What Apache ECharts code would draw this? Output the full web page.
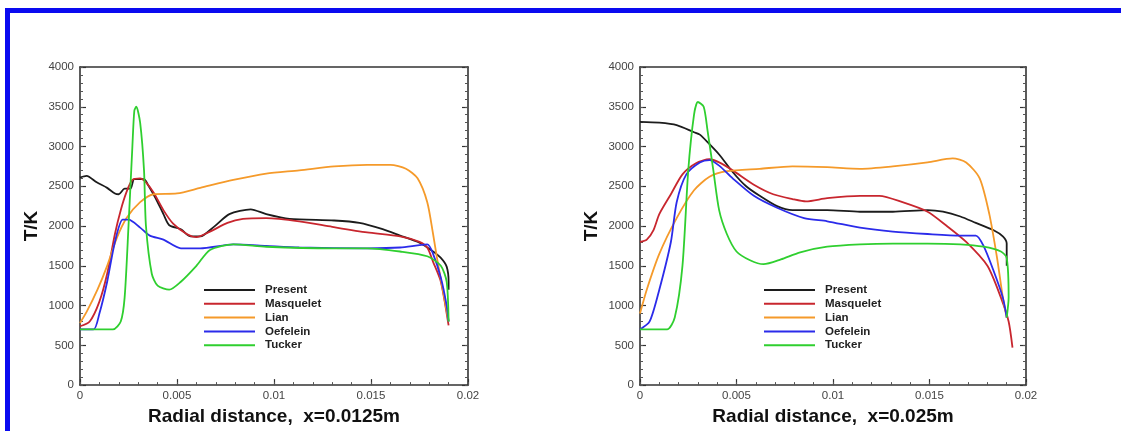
<!DOCTYPE html>
<html><head><meta charset="utf-8">
<script src="https://cdn.jsdelivr.net/npm/echarts@6/dist/echarts.min.js"></script>
<style>html,body{margin:0;padding:0;background:#fff}#c{width:1121px;height:431px}</style>
</head><body><div id="c"></div>
<script>
// ---- data (x in m, T in K) ----
const seriesNames = ['Present','Masquelet','Lian','Oefelein','Tucker'];
const xTicks = ['0','0.005','0.01','0.015','0.02'];
const yTicks = ['0','500','1000','1500','2000','2500','3000','3500','4000'];
const titleL = 'Radial distance,  x=0.0125m';
const titleR = 'Radial distance,  x=0.025m';

// Left panel x=0.0125m
const presentL = [[0,2610],[0.00034,2630],[0.00086,2550],[0.0014,2480],[0.0018,2410],[0.002,2400],[0.0023,2470],[0.0026,2470],[0.0028,2590],[0.0033,2590],[0.0035,2520],[0.0039,2350],[0.0043,2150],[0.0046,2010],[0.0052,1960],[0.0057,1870],[0.0062,1870],[0.0069,1990],[0.0077,2150],[0.0088,2210],[0.0096,2150],[0.0108,2090],[0.0131,2070],[0.0144,2040],[0.0156,1960],[0.0165,1880],[0.0175,1790],[0.0182,1680],[0.0186,1600],[0.0189,1490],[0.019,1300],[0.019,1200]];
const masqueletL = [[0,740],[0.0005,800],[0.001,1050],[0.0014,1400],[0.0018,1900],[0.0021,2200],[0.0024,2430],[0.0027,2580],[0.0031,2600],[0.0034,2550],[0.0038,2420],[0.0043,2200],[0.0048,2030],[0.0055,1900],[0.006,1860],[0.0067,1930],[0.0076,2040],[0.0084,2090],[0.0096,2100],[0.0113,2060],[0.013,1990],[0.0148,1920],[0.0165,1870],[0.0175,1800],[0.0179,1730],[0.0182,1550],[0.0186,1300],[0.019,750]];
const lianL = [[0,780],[0.00034,920],[0.0009,1200],[0.0014,1500],[0.0019,1850],[0.0024,2100],[0.0031,2300],[0.0038,2400],[0.005,2410],[0.0062,2480],[0.0079,2580],[0.0096,2660],[0.0113,2700],[0.0131,2750],[0.0148,2770],[0.016,2770],[0.0168,2720],[0.0174,2600],[0.0179,2300],[0.0182,1900],[0.0184,1600],[0.0187,1200],[0.019,800]];
const oefeleinL = [[0,700],[0.0007,700],[0.001,900],[0.0014,1300],[0.0018,1800],[0.0022,2080],[0.0025,2080],[0.0031,1980],[0.0036,1880],[0.0043,1830],[0.0052,1720],[0.0062,1720],[0.0079,1770],[0.0096,1750],[0.0113,1730],[0.0148,1720],[0.0165,1730],[0.0179,1770],[0.0182,1650],[0.0186,1350],[0.0189,1000],[0.019,800]];
const tuckerL = [[0,700],[0.0017,700],[0.0021,800],[0.0023,1100],[0.0025,2000],[0.0027,3000],[0.0028,3450],[0.0029,3500],[0.0031,3300],[0.0033,2700],[0.0034,2000],[0.0037,1400],[0.004,1250],[0.0046,1200],[0.0052,1300],[0.006,1500],[0.0067,1700],[0.0079,1770],[0.0096,1740],[0.013,1720],[0.0148,1720],[0.0165,1680],[0.0179,1620],[0.0186,1500],[0.0189,1300],[0.019,800]];

// Right panel x=0.025m
const presentR = [[0,3310],[0.001,3300],[0.0019,3270],[0.0028,3180],[0.0031,3150],[0.0036,3030],[0.0041,2900],[0.0048,2680],[0.0055,2500],[0.0062,2380],[0.0071,2250],[0.0079,2200],[0.0097,2200],[0.0114,2180],[0.0131,2180],[0.0149,2200],[0.0157,2180],[0.0166,2120],[0.0174,2040],[0.0183,1950],[0.0188,1870],[0.019,1780],[0.019,1500]];
const masqueletR = [[0,1800],[0.00035,1830],[0.0007,1950],[0.001,2150],[0.0016,2400],[0.0022,2650],[0.0029,2790],[0.0036,2840],[0.0041,2800],[0.0048,2700],[0.0059,2520],[0.0069,2400],[0.0079,2340],[0.0086,2310],[0.0097,2350],[0.0114,2380],[0.0124,2380],[0.0136,2300],[0.0149,2180],[0.0159,2000],[0.0169,1800],[0.018,1500],[0.0187,1100],[0.0191,800],[0.0193,470]];
const lianR = [[0,900],[0.00035,1200],[0.001,1650],[0.0019,2100],[0.0028,2450],[0.0036,2620],[0.0045,2690],[0.0062,2720],[0.0079,2750],[0.0097,2740],[0.0114,2720],[0.0131,2750],[0.0149,2800],[0.0162,2850],[0.0169,2800],[0.0176,2600],[0.0181,2150],[0.0185,1600],[0.0188,1100],[0.019,850]];
const oefeleinR = [[0,700],[0.0005,800],[0.001,1200],[0.0016,1800],[0.0019,2300],[0.0024,2650],[0.0031,2800],[0.0036,2830],[0.0041,2760],[0.0048,2600],[0.0059,2380],[0.0071,2230],[0.0085,2100],[0.0097,2060],[0.0114,1980],[0.0131,1930],[0.0149,1900],[0.0166,1880],[0.0174,1880],[0.0178,1750],[0.0183,1450],[0.0188,1100],[0.019,850]];
const tuckerR = [[0,700],[0.0014,700],[0.0018,850],[0.0022,1500],[0.0025,2700],[0.0028,3400],[0.003,3560],[0.0033,3500],[0.0035,3200],[0.0038,2700],[0.0041,2200],[0.0045,1900],[0.005,1680],[0.0057,1570],[0.0064,1520],[0.0073,1580],[0.0083,1670],[0.0097,1740],[0.0114,1770],[0.0131,1780],[0.0149,1780],[0.0166,1770],[0.0178,1740],[0.0187,1680],[0.019,1600],[0.0191,1100],[0.019,850]];

const colors = ['#1c1c1c','#c8262e','#f59a2a','#2b2bea','#2fcf2f'];
const dataL = [presentL, masqueletL, lianL, oefeleinL, tuckerL];
const dataR = [presentR, masqueletR, lianR, oefeleinR, tuckerR];

const chart = echarts.init(document.getElementById('c'), null, {renderer:'canvas'});
const axisCol = '#333';
const FF = 'Liberation Sans, Arial, sans-serif';
const labelFont = {color:'#444', fontSize:11.5, fontFamily:FF};
const noLine = {show:false};
const hiddenAxisLine = {show:false, onZero:false};
const shownAxisLine = {show:true, onZero:false, lineStyle:{color:axisCol, width:1.6}};

// per grid: 0 main bottom, 1 minor bottom, 2 top line
function xAxesFor(gi, name){
  return [{
    type:'value', gridIndex:gi, position:'bottom', min:0, max:0.02, interval:0.005,
    name:name, nameLocation:'middle', nameGap:21,
    nameTextStyle:{fontSize:19, fontWeight:'bold', color:'#111', fontFamily:FF},
    axisLine:shownAxisLine,
    axisTick:{show:true, inside:true, length:6, lineStyle:{color:axisCol, width:1.2}},
    splitLine:noLine,
    axisLabel:{...labelFont, margin:5, formatter:(v)=>{const i=Math.round(v/0.005);return xTicks[i]!==undefined?xTicks[i]:'';}}
  },{
    type:'value', gridIndex:gi, position:'bottom', min:0, max:0.02, interval:0.001,
    axisLine:hiddenAxisLine, axisLabel:noLine, splitLine:noLine,
    axisTick:{show:true, inside:true, length:3, lineStyle:{color:'#555', width:1}}
  },{
    type:'value', gridIndex:gi, position:'top', min:0, max:0.02,
    axisLine:shownAxisLine,
    axisTick:noLine, axisLabel:noLine, splitLine:noLine
  }];
}
// per grid: 0 main left, 1 minor left, 2 main right, 3 minor right
function yAxesFor(gi){
  const minor = (pos)=>({
    type:'value', gridIndex:gi, position:pos, min:0, max:4000, interval:100,
    axisLine:hiddenAxisLine, axisLabel:noLine, splitLine:noLine,
    axisTick:{show:true, inside:true, length:3, lineStyle:{color:'#555', width:1}}
  });
  return [{
    type:'value', gridIndex:gi, position:'left', min:0, max:4000, interval:500,
    name:'T/K', nameLocation:'middle', nameGap:39, nameRotate:90,
    nameTextStyle:{fontSize:19, fontWeight:'bold', color:'#111', fontFamily:FF},
    axisLine:shownAxisLine,
    axisTick:{show:true, inside:true, length:6, lineStyle:{color:axisCol, width:1.2}},
    splitLine:noLine,
    axisLabel:{...labelFont, margin:6, formatter:(v)=>{const i=Math.round(v/500);return yTicks[i]!==undefined?yTicks[i]:'';}}
  }, minor('left'), {
    type:'value', gridIndex:gi, position:'right', min:0, max:4000, interval:500,
    axisLine:shownAxisLine,
    axisTick:{show:true, inside:true, length:6, lineStyle:{color:axisCol, width:1.2}},
    axisLabel:noLine, splitLine:noLine
  }, minor('right')];
}

const series = [];
[dataL, dataR].forEach((set, gi)=>{
  set.forEach((d, k)=>{
    series.push({
      type:'line', name:seriesNames[k], xAxisIndex:gi*3, yAxisIndex:gi*4,
      data:d, symbol:'none', smooth:0.25,
      lineStyle:{color:colors[k], width:1.8}, itemStyle:{color:colors[k]},
      z: k===4 ? 3 : 2
    });
  });
});

function legendAt(left){
  return {
    show:true, orient:'vertical', left:left, top:284, padding:0,
    itemWidth:51, itemHeight:12, itemGap:1.8,
    icon:'path://M0,5 L51,5 L51,7 L0,7 Z',
    data:seriesNames,
    textStyle:{fontSize:11.5, fontWeight:'bold', color:'#222', fontFamily:FF, padding:[0,0,0,5]},
    selectedMode:false
  };
}

chart.setOption({
  animation:false,
  color:colors,
  grid:[
    {left:80, right:653, top:67, bottom:45},
    {left:640, right:95, top:67, bottom:45}
  ],
  xAxis:[...xAxesFor(0, titleL), ...xAxesFor(1, titleR)],
  yAxis:[...yAxesFor(0), ...yAxesFor(1)],
  legend:[legendAt(204), legendAt(764)],
  series:series,
  graphic:[{
    type:'rect', shape:{x:7.5, y:10.5, width:1300, height:600},
    style:{fill:'none', stroke:'#0a0af0', lineWidth:5}, silent:true, z:100
  }]
});
</script></body></html>
